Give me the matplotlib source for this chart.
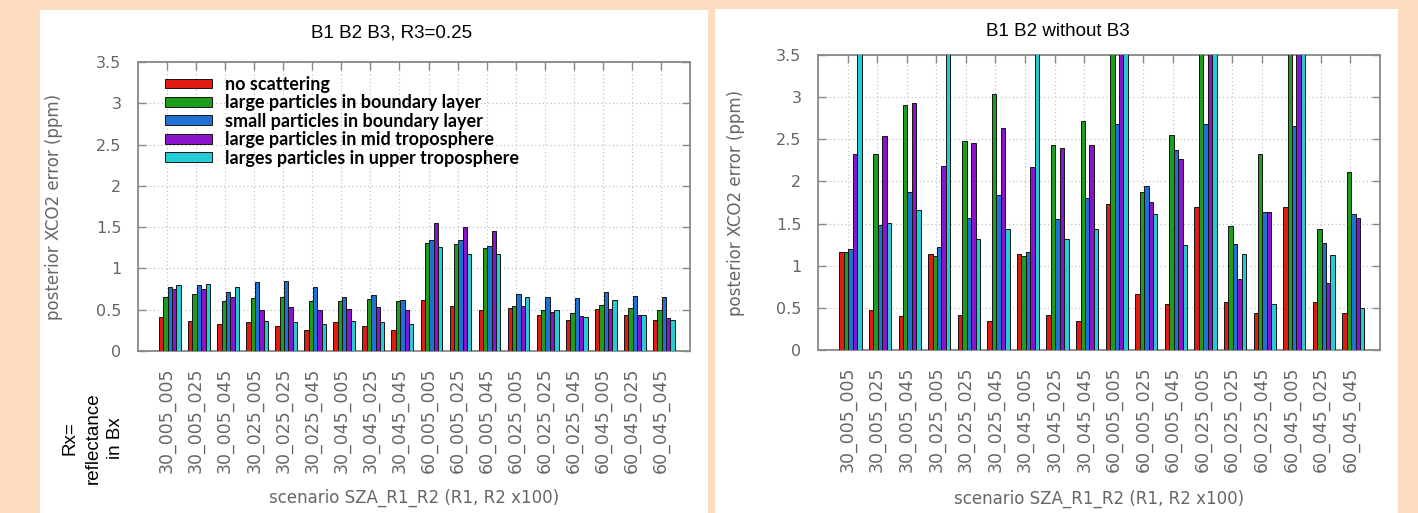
import numpy as np
import matplotlib
matplotlib.use("Agg")
import matplotlib.pyplot as plt
from matplotlib.patches import Rectangle

# scenario names: SZA_R1_R2 (R1, R2 x100)
scenarios = ["30_005_005", "30_005_025", "30_005_045", "30_025_005", "30_025_025",
             "30_025_045", "30_045_005", "30_045_025", "30_045_045", "60_005_005",
             "60_005_025", "60_005_045", "60_025_005", "60_025_025", "60_025_045",
             "60_045_005", "60_045_025", "60_045_045"]

series_names = ["no scattering",
                "large particles in boundary layer",
                "small particles in boundary layer",
                "large particles in mid troposphere",
                "larges particles in upper troposphere"]

# B1 B2 B3, R3=0.25
no_scat_b3 = [0.41, 0.36, 0.33, 0.35, 0.30, 0.26, 0.35, 0.30, 0.26,
              0.62, 0.54, 0.50, 0.52, 0.43, 0.38, 0.51, 0.43, 0.38]
large_bl_b3 = [0.66, 0.69, 0.61, 0.64, 0.65, 0.61, 0.61, 0.63, 0.60,
               1.31, 1.29, 1.25, 0.54, 0.50, 0.46, 0.56, 0.52, 0.50]
small_bl_b3 = [0.78, 0.80, 0.71, 0.84, 0.85, 0.77, 0.66, 0.68, 0.62,
               1.34, 1.35, 1.27, 0.69, 0.66, 0.64, 0.71, 0.67, 0.66]
large_mid_b3 = [0.75, 0.75, 0.66, 0.50, 0.53, 0.50, 0.51, 0.53, 0.50,
                1.55, 1.50, 1.45, 0.55, 0.47, 0.42, 0.51, 0.44, 0.40]
large_up_b3 = [0.80, 0.81, 0.77, 0.36, 0.35, 0.33, 0.36, 0.35, 0.33,
               1.26, 1.18, 1.17, 0.65, 0.50, 0.41, 0.62, 0.44, 0.37]

# B1 B2 without B3 (values above 3.5 run off the top)
no_scat_nob3 = [1.16, 0.47, 0.40, 1.14, 0.42, 0.34, 1.14, 0.42, 0.34,
                1.73, 0.67, 0.55, 1.70, 0.57, 0.44, 1.70, 0.57, 0.44]
large_bl_nob3 = [1.16, 2.32, 2.91, 1.12, 2.48, 3.04, 1.12, 2.43, 2.72,
                 4.80, 1.87, 2.55, 4.80, 1.47, 2.32, 4.80, 1.44, 2.11]
small_bl_nob3 = [1.20, 1.48, 1.87, 1.22, 1.57, 1.84, 1.16, 1.56, 1.80,
                 2.68, 1.95, 2.37, 2.68, 1.26, 1.64, 2.66, 1.27, 1.61]
large_mid_nob3 = [2.33, 2.54, 2.93, 2.18, 2.46, 2.63, 2.17, 2.40, 2.43,
                  4.80, 1.76, 2.27, 4.80, 0.84, 1.64, 4.80, 0.80, 1.57]
large_up_nob3 = [4.80, 1.51, 1.66, 4.80, 1.32, 1.43, 4.80, 1.32, 1.43,
                 4.80, 1.61, 1.25, 4.80, 1.14, 0.55, 4.80, 1.13, 0.50]

yticks = [0, 0.5, 1, 1.5, 2, 2.5, 3, 3.5]
ytick_labels = ["0", "0.5", "1", "1.5", "2", "2.5", "3", "3.5"]

colors = ["#e01c12", "#1c9e1c", "#1f72d4", "#8a14cc", "#24cdd6"]
grey = "#666666"

W, H = 1418, 513
fig = plt.figure(figsize=(W / 100, H / 100), dpi=100)
fig.patch.set_facecolor("#fddcc0")

# white panels behind each chart
for x0, x1, top in [(40, 708, 10), (715, 1398, 9)]:
    fig.patches.append(Rectangle((x0 / W, 0), (x1 - x0) / W, 1 - top / H,
                                 transform=fig.transFigure, facecolor="white",
                                 edgecolor="none", zorder=-10))


def px_axes(x0, x1, top, bottom):
    return fig.add_axes([x0 / W, 1 - bottom / H, (x1 - x0) / W, (bottom - top) / H])


def draw_panel(ax, data, ylab_x):
    x = np.arange(len(scenarios))
    width = 0.15
    for i, vals in enumerate(data):
        ax.bar(x + 0.1 + (i - 2) * width, vals, width, color=colors[i],
               edgecolor="#151515", linewidth=0.7, label=series_names[i], zorder=3)
    ax.set_xlim(-1, 18)
    ax.set_ylim(0, 3.5)
    ax.set_yticks(yticks)
    ax.set_yticklabels(ytick_labels)
    ax.set_xticks(x)
    ax.set_xticklabels(scenarios, rotation=90, fontsize=12.5)
    ax.tick_params(direction="in", length=6, width=1, color="#888888",
                   labelcolor=grey, pad=12, top=True, right=True)
    ax.tick_params(axis="y", labelsize=11.5)
    ax.grid(True, color="#bbbbbb", linestyle=(0, (1, 2.5)), linewidth=0.8, zorder=0)
    ax.set_axisbelow(True)
    for s in ax.spines.values():
        s.set_color("#888888")
        s.set_linewidth(1.3)
    ax.set_ylabel("posterior XCO2 error (ppm)", color=grey, fontsize=12)
    ax.yaxis.set_label_coords(ylab_x, 0.5)
    ax.set_xlabel("scenario SZA_R1_R2 (R1, R2 x100)", color=grey, fontsize=12)
    ax.xaxis.set_label_coords(0.5, -0.475)


ax1 = px_axes(138, 690, 62, 351)
draw_panel(ax1, [no_scat_b3, large_bl_b3, small_bl_b3, large_mid_b3, large_up_b3], -0.135)
leg = ax1.legend(loc="upper left", bbox_to_anchor=(0.036, 0.977), frameon=False,
                 handlelength=2.6, handleheight=0.45, handletextpad=0.7,
                 labelspacing=0.08, borderaxespad=0,
                 prop={"family": "Lato", "weight": "bold", "size": 13})

ax2 = px_axes(818, 1380, 55, 350)
draw_panel(ax2, [no_scat_nob3, large_bl_nob3, small_bl_nob3, large_mid_nob3, large_up_nob3], -0.13)

fig.text(392 / W, 1 - 33 / H, "B1 B2 B3, R3=0.25", ha="center", va="center",
         fontsize=13.5, family="Liberation Sans")
fig.text(1058 / W, 1 - 32 / H, "B1 B2 without B3", ha="center", va="center",
         fontsize=13.5, family="Liberation Sans")
fig.text(93 / W, 1 - 438 / H, "Rx=\nreflectance\nin Bx", ha="center", va="center",
         rotation=90, multialignment="center", fontsize=13.5,
         family="Liberation Sans", linespacing=1.45)

fig.savefig("out.png", dpi=100, facecolor=fig.get_facecolor())
